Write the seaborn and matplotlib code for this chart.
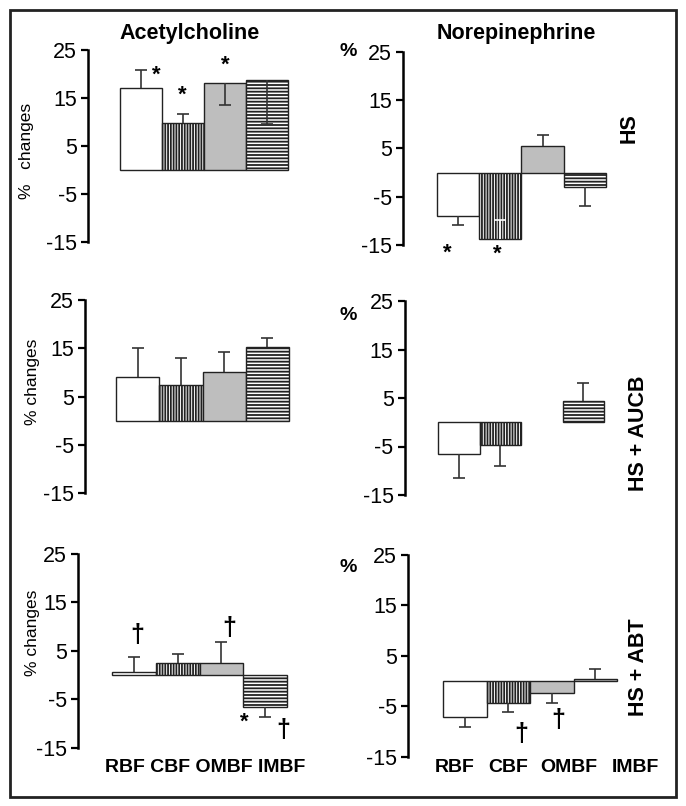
import matplotlib
matplotlib.use("Agg")
import matplotlib.pyplot as plt
import numpy as np
import pandas as pd
import seaborn as sns
from matplotlib.patches import Rectangle

sites = ["RBF", "CBF", "OMBF", "IMBF"]
yticks = [-15, -5, 5, 15, 25]

# % changes per panel, and where each error bar ends (nan = no bar)
ach_hs = [17.0, 9.7, 18.2, 18.7]
ach_hs_err = [20.8, 11.6, 13.5, 9.6]
ne_hs = [-9.1, -13.8, 5.5, -2.9]
ne_hs_err = [-10.8, -9.9, 7.8, -6.9]
ach_aucb = [9.0, 7.4, 10.1, 15.2]
ach_aucb_err = [15.0, 13.1, 14.2, 17.1]
ne_aucb = [-6.6, -4.7, np.nan, 4.4]
ne_aucb_err = [-11.5, -9.0, np.nan, 8.0]
ach_abt = [0.7, 2.5, 2.5, -6.5]
ach_abt_err = [3.7, 4.3, 6.8, -8.7]
ne_abt = [-7.2, -4.4, -2.3, 0.4]
ne_abt_err = [-9.2, -6.2, -4.3, 2.4]

# significance marks: (x in bar units, y in %, symbol)
ach_hs_marks = [(0.37, 19.8, "*"), (0.98, 15.6, "*"), (2.0, 21.9, "*")]
ne_hs_marks = [(-0.26, -16.8, "*"), (0.92, -17.0, "*")]
ach_abt_marks = [(0.07, 8.3, "\u2020"), (2.17, 9.8, "\u2020"), (2.52, -9.8, "*"), (3.41, -11.3, "\u2020")]
ne_abt_marks = [(1.29, -10.4, "\u2020"), (2.14, -7.8, "\u2020")]

sns.set_style("white")
plt.rcParams['font.family'] = ['Liberation Sans', 'DejaVu Sans']
plt.rcParams['hatch.linewidth'] = 1.3
plt.rcParams['text.color'] = 'black'
plt.rcParams['ytick.color'] = 'black'
plt.rcParams['ytick.labelcolor'] = 'black'

W, H = 686, 806
fig = plt.figure(figsize=(W / 100, H / 100), dpi=100)

fills = {"RBF": "white", "CBF": "white", "OMBF": "#bebebe", "IMBF": "white"}
hatches = ["", "||||||", "", "-----"]

# layout in pixels: spine x, y of 25, y of -15, bars left, bars right
panels = [
    (ach_hs, ach_hs_err, ach_hs_marks, (88, 50, 242, 120, 288)),
    (ne_hs, ne_hs_err, ne_hs_marks, (403, 51.7, 245, 437, 606)),
    (ach_aucb, ach_aucb_err, [], (85, 300, 493.3, 116, 289)),
    (ne_aucb, ne_aucb_err, [], (404.7, 301, 495, 438, 604)),
    (ach_abt, ach_abt_err, ach_abt_marks, (78, 554, 747.7, 112, 287)),
    (ne_abt, ne_abt_err, ne_abt_marks, (408, 555, 756.7, 443, 617)),
]

for k, (vals, errs, marks, (sx, yt, yb, bl, br)) in enumerate(panels):
    rp = br + 10
    ax = fig.add_axes([sx / W, 1 - yb / H, (rp - sx) / W, (yb - yt) / H])
    unit = (br - bl) / 4
    df = pd.DataFrame({"site": sites, "val": vals})
    sns.barplot(data=df, x="site", y="val", order=sites, hue="site", palette=fills,
                width=1.0, errorbar=None, edgecolor="#222222", linewidth=1.0,
                legend=False, ax=ax)
    for p in ax.patches:
        idx = int(round(p.get_x() + p.get_width() / 2))
        p.set_hatch(hatches[idx])
    for i, (v, e) in enumerate(zip(vals, errs)):
        if np.isnan(v):
            continue
        col = "white" if (k == 1 and i == 1) else "#333333"
        ax.vlines(i, v, e, color=col, lw=1.2, zorder=5)
        ax.plot(i, e, marker="_", ms=8, mew=1.2, color=col, zorder=5)
    for (mx, my, s) in marks:
        ax.text(mx, my, s, ha="center", va="center", fontsize=18 if s != "*" else 16,
                fontweight="bold", clip_on=False)
    ax.set_xlim(-0.5 - (bl - sx) / unit, 3.5 + (rp - br) / unit)
    ax.set_ylim(-15, 25)
    ax.set_yticks(yticks)
    ax.set_yticklabels([str(t) for t in yticks], fontsize=15.5)
    ax.set_xticks([])
    ax.set_xlabel("")
    ax.set_ylabel("")
    for side in ["top", "right", "bottom"]:
        ax.spines[side].set_visible(False)
    ax.spines["left"].set_linewidth(1.8)
    ax.spines["left"].set_color("black")
    ax.tick_params(axis="y", direction="out", length=5, width=1.6, left=True, pad=3)
    ax.patch.set_alpha(0)

# titles
fig.text(190 / W, 1 - 33 / H, "Acetylcholine", ha="center", va="center", fontsize=15.5, fontweight="bold")
fig.text(516 / W, 1 - 33 / H, "Norepinephrine", ha="center", va="center", fontsize=15.5, fontweight="bold")

# row labels
fig.text(629 / W, 1 - 128 / H, "HS", rotation=90, ha="center", va="center", fontsize=15.5, fontweight="bold")
fig.text(638 / W, 1 - 433 / H, "HS + AUCB", rotation=90, ha="center", va="center", fontsize=15.5, fontweight="bold")
fig.text(638 / W, 1 - 667 / H, "HS + ABT", rotation=90, ha="center", va="center", fontsize=15.5, fontweight="bold")

# y labels
fig.text(27 / W, 1 - 151 / H, "%   changes", rotation=90, ha="center", va="center", fontsize=12.5)
fig.text(32 / W, 1 - 382 / H, "% changes", rotation=90, ha="center", va="center", fontsize=12.5)
fig.text(32 / W, 1 - 633 / H, "% changes", rotation=90, ha="center", va="center", fontsize=12.5)
for yy in [52, 316, 567]:
    fig.text(348 / W, 1 - yy / H, "%", ha="center", va="center", fontsize=14, fontweight="bold")

# x labels
fig.text(205 / W, 1 - 768 / H, " ".join(sites), ha="center", va="center", fontsize=14, fontweight="bold")
for name, xx in zip(sites, [455, 508, 569, 635]):
    fig.text(xx / W, 1 - 768 / H, name, ha="center", va="center", fontsize=14, fontweight="bold")

fig.patches.append(Rectangle((10 / W, 1 - 797 / H), 666 / W, 787 / H, transform=fig.transFigure,
                             fill=False, lw=2, ec="#222222"))

fig.savefig("out.png", dpi=100)
